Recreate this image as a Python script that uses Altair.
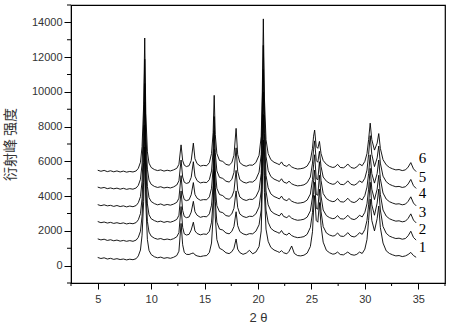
import altair as alt
import pandas as pd

# 2-theta sample positions (shared by all six patterns)
X = [5.0,5.3,5.6,5.9,6.2,6.5,6.8,7.1,7.4,7.7,8.0,8.3,8.6,8.8,
     9.0,9.15,9.3,9.4,9.5,9.65,9.8,10.0,
     10.3,10.6,10.9,11.2,11.5,11.8,12.1,12.4,12.6,
     12.8,12.95,13.1,13.3,13.55,13.75,
     13.95,14.1,14.3,14.6,14.9,15.2,15.45,15.65,
     15.8,15.9,16.0,16.15,
     16.4,16.7,17.0,17.3,17.55,17.75,
     17.95,18.1,18.3,
     18.6,18.9,19.2,19.5,19.8,20.1,20.3,
     20.4,20.5,20.6,20.75,20.95,
     21.2,21.5,21.8,22.0,22.2,22.4,22.7,22.9,23.15,23.4,23.7,24.0,24.3,24.6,24.9,25.1,
     25.2,25.3,25.45,25.6,25.75,25.9,26.1,
     26.4,26.7,27.0,27.2,27.45,27.7,28.0,28.2,28.4,28.7,29.0,29.25,29.5,29.75,30.0,30.2,
     30.35,30.5,30.65,30.9,
     31.15,31.3,31.45,31.7,
     32.0,32.3,32.6,32.9,33.2,33.5,33.8,34.05,34.3,34.55,34.8]

S1 = [470,410,450,380,420,360,400,350,380,330,370,340,400,560,
      900,1750,3700,6830,3600,1500,880,640,
      510,450,490,420,460,420,480,580,830,
      2430,1200,760,650,640,690,
      730,620,560,520,560,580,760,1300,
      2800,5430,2800,1500,
      1000,900,740,690,800,1000,
      1530,950,750,
      650,720,880,680,780,1100,2000,
      4400,7230,4200,2100,1400,
      1050,900,820,760,860,740,680,820,1130,700,580,560,600,720,1100,1950,
      3200,4030,2600,2500,3630,2300,1350,
      880,740,660,680,780,640,620,700,780,640,600,650,780,700,950,1500,
      2600,3830,2600,2000,
      2700,3430,2200,1300,
      850,700,620,560,580,520,560,640,760,580,480]

S2 = [1540,1480,1520,1450,1490,1430,1470,1410,1450,1400,1440,1400,1470,1630,
      1980,2850,4800,8100,4600,2550,1930,1700,
      1580,1520,1560,1490,1530,1490,1550,1660,1900,
      3400,2200,1830,1760,1800,2050,
      2500,2000,1850,1770,1820,1800,1980,2500,
      3700,6100,3700,2500,
      2100,2050,1880,1830,1970,2250,
      3100,2300,1960,
      1830,1770,1840,1830,1980,2350,3200,
      5400,8700,5200,3200,2500,
      2150,2000,1920,1860,2020,1830,1760,1880,1730,1660,1610,1630,1670,1800,2200,3050,
      4100,4800,3300,3250,4400,3100,2250,
      1880,1760,1700,1730,1880,1700,1680,1760,1900,1700,1650,1730,1900,1800,2080,2600,
      3500,4800,3500,2900,
      3600,4400,3200,2250,
      1860,1700,1620,1560,1580,1520,1560,1720,1980,1620,1470]

S3 = [2540,2470,2510,2450,2490,2430,2470,2420,2460,2400,2440,2410,2480,2640,
      2990,3850,5950,9400,5700,3550,2930,2700,
      2590,2520,2560,2490,2540,2500,2560,2660,2900,
      4300,3180,2830,2760,2800,3080,
      3700,3100,2900,2780,2830,2810,2980,3480,
      4600,6700,4500,3450,
      3100,3050,2880,2840,2980,3300,
      4300,3350,2970,
      2830,2770,2840,2830,2980,3380,4300,
      6900,10000,6600,4300,3500,
      3150,3000,2920,2860,3020,2830,2760,2880,2730,2660,2610,2630,2670,2790,3150,3950,
      4900,5500,4100,4050,5200,4000,3200,
      2880,2760,2700,2730,2880,2700,2680,2760,2900,2700,2650,2730,2900,2800,3070,3560,
      4400,5600,4400,3800,
      4400,5200,4100,3200,
      2850,2700,2620,2560,2580,2520,2560,2720,2980,2620,2460]

S4 = [3510,3450,3500,3440,3470,3410,3460,3400,3440,3380,3430,3390,3460,3620,
      3970,4850,7000,10480,6700,4550,3920,3690,
      3570,3500,3550,3470,3520,3480,3540,3640,3880,
      5180,4120,3800,3740,3790,4080,
      4780,4100,3880,3760,3800,3790,3960,4450,
      5600,7780,5500,4450,
      4090,4030,3860,3820,3960,4300,
      5480,4350,3950,
      3810,3750,3820,3810,3960,4350,5300,
      7900,11280,7600,5200,4480,
      4130,3980,3900,3840,4000,3810,3740,3860,3710,3640,3590,3610,3650,3770,4120,4950,
      5800,6380,5000,4950,5980,4900,4150,
      3860,3740,3680,3710,3860,3680,3660,3740,3880,3680,3630,3710,3880,3780,4040,4520,
      5300,6380,5300,4750,
      5300,6080,5000,4180,
      3830,3680,3600,3540,3560,3500,3540,3700,3960,3600,3440]

S5 = [4520,4460,4500,4430,4470,4420,4460,4400,4450,4390,4430,4400,4470,4620,
      4970,5850,8100,11880,7700,5550,4920,4680,
      4560,4500,4540,4470,4510,4470,4530,4640,4880,
      6080,5100,4800,4730,4780,5080,
      5980,5150,4890,4760,4800,4780,4950,5450,
      6600,8580,6500,5450,
      5080,5020,4860,4810,4960,5360,
      6780,5420,4950,
      4810,4750,4820,4810,4960,5380,6400,
      9000,12680,8700,6300,5480,
      5130,4980,4900,4840,5000,4810,4740,4860,4710,4640,4590,4610,4650,4770,5100,5900,
      6700,7180,6050,5950,6580,5700,5100,
      4860,4740,4680,4710,4860,4680,4660,4740,4880,4680,4630,4710,4880,4780,5030,5500,
      6400,7480,6400,5700,
      6200,6880,5900,5150,
      4830,4680,4600,4540,4560,4500,4540,4700,4960,4600,4440]

S6 = [5490,5430,5480,5410,5460,5400,5450,5390,5440,5380,5420,5390,5450,5600,
      5950,6850,9250,13100,8750,6550,5900,5650,
      5530,5470,5510,5440,5490,5450,5510,5600,5830,
      6950,6050,5780,5700,5750,6050,
      7050,6150,5870,5730,5770,5750,5930,6450,
      7650,9800,7550,6450,
      6050,6000,5830,5780,5930,6350,
      7900,6400,5930,
      5780,5720,5790,5780,5930,6350,7450,
      9950,14200,9650,7250,6450,
      6100,5950,5870,5810,5970,5780,5710,5830,5680,5610,5560,5580,5620,5730,6050,6750,
      7450,7800,6850,6750,7150,6450,6050,
      5830,5710,5650,5680,5830,5650,5630,5710,5850,5650,5600,5680,5850,5750,6000,6450,
      7250,8200,7250,6650,
      7050,7600,6750,6100,
      5800,5650,5570,5510,5530,5470,5510,5670,5930,5570,5410]

SERIES = ["1", "2", "3", "4", "5", "6"]
LABEL_X = [35.4, 35.4, 35.4, 35.4, 35.4, 35.4]
LABEL_Y = [1075, 2110, 3090, 4180, 5100, 6190]

X_MINOR = [2.5, 7.5, 12.5, 17.5, 22.5, 27.5, 32.5, 37.5]
Y_MINOR = [-1000, 1000, 3000, 5000, 7000, 9000, 11000, 13000, 15000]

all_s = [S1, S2, S3, S4, S5, S6]
for s in all_s:
    assert len(s) == len(X), len(s)

rows = []
for name, ys in zip(SERIES, all_s):
    for i, (xv, yv) in enumerate(zip(X, ys)):
        rows.append({"x": xv, "y": yv, "s": name, "i": i})
df = pd.DataFrame(rows)
lab = pd.DataFrame({"x": LABEL_X, "y": LABEL_Y, "t": SERIES})
xmin_df = pd.DataFrame({"x": X_MINOR})
ymin_df = pd.DataFrame({"y": Y_MINOR})

H = 278
xscale = alt.Scale(domain=[2.5, 37.5], nice=False, zero=False)
yscale = alt.Scale(domain=[-1000, 15000], nice=False, zero=False)

xaxis = alt.Axis(
    tickCount=7, tickSize=6, grid=False, domainColor="black", tickColor="black",
    labelFont="Liberation Sans", labelFontSize=11, labelColor="#333",
    labelPadding=4, title="2 θ", titleFont="Liberation Sans", titleFontSize=13,
    titleFontWeight="normal", titleColor="#333", titlePadding=7,
)
yaxis = alt.Axis(
    tickCount=8, format="d", tickSize=7, grid=False,
    domainColor="black", tickColor="black",
    labelFont="Liberation Sans", labelFontSize=11, labelColor="#333",
    labelPadding=2, title="衍射峰 强度", titleFont="Noto Sans CJK SC", titleFontSize=14,
    titleFontWeight="normal", titleColor="#333", titlePadding=14,
)

lines = alt.Chart(df).mark_line(color="black", strokeWidth=0.9, clip=True).encode(
    x=alt.X("x:Q", scale=xscale, axis=xaxis),
    y=alt.Y("y:Q", scale=yscale, axis=yaxis),
    detail="s:N",
    order="i:Q",
)

labels = alt.Chart(lab).mark_text(
    font="Liberation Serif", fontSize=15, color="black", align="center", baseline="middle"
).encode(
    x=alt.X("x:Q", scale=xscale),
    y=alt.Y("y:Q", scale=yscale),
    text="t:N",
)

xminor = alt.Chart(xmin_df).mark_rule(color="black", strokeWidth=1).encode(
    x=alt.X("x:Q", scale=xscale),
    y=alt.value(H),
    y2=alt.value(H + 3),
)
yminor = alt.Chart(ymin_df).mark_rule(color="black", strokeWidth=1).encode(
    y=alt.Y("y:Q", scale=yscale),
    x=alt.value(-4),
    x2=alt.value(0),
)

chart = (lines + labels + xminor + yminor).properties(
    width=374, height=H,
    autosize=alt.AutoSizeParams(type="none"),
    padding={"left": 71, "top": 5, "right": 5, "bottom": 43},
).configure(background="white").configure_view(stroke="black", strokeWidth=1.2)

chart.save("out.html", embed_options={"renderer": "svg", "actions": False})
